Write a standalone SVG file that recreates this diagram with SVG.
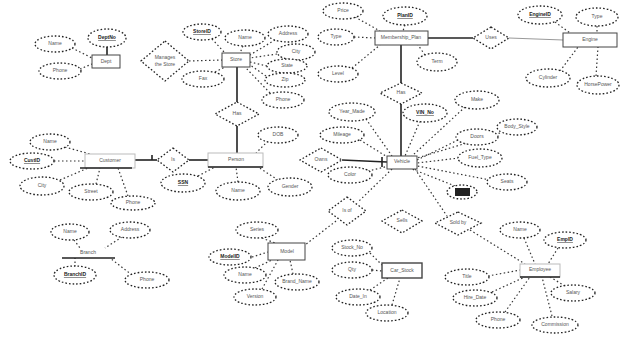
<svg xmlns="http://www.w3.org/2000/svg" width="624" height="337" viewBox="0 0 624 337">
<style>
.bg{fill:#fff}
.at{fill:#fff;stroke:#222;stroke-width:1.3;stroke-dasharray:1.6 2}
.rel{fill:#fff;stroke:#222;stroke-width:1.3;stroke-dasharray:1.6 2}
.ent{fill:#fff;stroke:#444;stroke-width:1}
.t{font-family:"Liberation Sans",Arial,sans-serif;font-size:5px;fill:#555;text-anchor:middle;dominant-baseline:middle}
.k{text-decoration:underline;fill:#222;font-weight:bold}
.d{fill:none;stroke:#333;stroke-width:1.2;stroke-dasharray:1.5 2.5}
.s{fill:none;stroke:#222;stroke-width:1.6}
.g{fill:none;stroke:#999;stroke-width:1}
</style>
<rect class="bg" width="624" height="337"/>
<g id="connectors">
<line class="d" x1="72" y1="48" x2="92" y2="58"/><line class="s" x1="107" y1="47" x2="107" y2="55"/><line class="d" x1="80" y1="69" x2="92" y2="64"/>
<line class="d" x1="189" y1="61" x2="222" y2="60"/><line class="d" x1="212" y1="39" x2="225" y2="53"/><line class="d" x1="243" y1="46" x2="240" y2="53"/><line class="d" x1="275" y1="40" x2="250" y2="55"/><line class="d" x1="277" y1="54" x2="250" y2="58"/><line class="d" x1="267" y1="66" x2="250" y2="62"/><line class="d" x1="266" y1="76" x2="250" y2="65"/><line class="d" x1="270" y1="93" x2="245" y2="67"/><line class="d" x1="215" y1="72" x2="225" y2="67"/>
<line class="s" x1="237" y1="67" x2="237" y2="102"/><line class="s" x1="237" y1="126" x2="237" y2="153"/>
<line class="d" x1="355" y1="17" x2="380" y2="31"/><line class="d" x1="405" y1="25" x2="403" y2="31"/><line class="d" x1="354" y1="37" x2="375" y2="38"/><line class="d" x1="425" y1="55" x2="418" y2="45"/><line class="d" x1="352" y1="68" x2="380" y2="45"/>
<line class="s" x1="428" y1="38" x2="473" y2="38"/><line class="s" x1="401" y1="45" x2="401" y2="83"/><line class="s" x1="401" y1="104" x2="401" y2="156"/>
<line class="g" x1="509" y1="38" x2="563" y2="40"/>
<line class="d" x1="555" y1="22" x2="570" y2="33"/><line class="d" x1="597" y1="26" x2="597" y2="33"/><line class="d" x1="560" y1="71" x2="578" y2="47"/><line class="d" x1="596" y1="76" x2="598" y2="47"/>
<line class="d" x1="65" y1="147" x2="90" y2="154"/><line class="d" x1="54" y1="161" x2="85" y2="161"/><line class="d" x1="60" y1="180" x2="88" y2="168"/><line class="d" x1="96" y1="184" x2="100" y2="168"/><line class="d" x1="128" y1="196" x2="118" y2="168"/>
<line class="s" x1="135" y1="160" x2="157" y2="160"/><line class="s" x1="152" y1="155" x2="152" y2="160"/><line class="s" x1="189" y1="160" x2="208" y2="160"/>
<line class="d" x1="198" y1="176" x2="215" y2="167"/><line class="d" x1="238" y1="182" x2="236" y2="167"/><line class="d" x1="278" y1="180" x2="258" y2="167"/><line class="d" x1="268" y1="141" x2="256" y2="153"/>
<line class="d" x1="366" y1="119" x2="392" y2="156"/><line class="d" x1="360" y1="140" x2="389" y2="158"/><line class="d" x1="368" y1="171" x2="389" y2="166"/><line class="d" x1="420" y1="121" x2="405" y2="156"/><line class="d" x1="465" y1="107" x2="412" y2="156"/><line class="d" x1="500" y1="133" x2="417" y2="158"/><line class="d" x1="458" y1="140" x2="417" y2="160"/><line class="d" x1="459" y1="158" x2="417" y2="163"/><line class="d" x1="490" y1="180" x2="417" y2="166"/><line class="d" x1="455" y1="186" x2="412" y2="169"/>
<line class="s" x1="342" y1="160" x2="387" y2="162"/><line class="s" x1="382" y1="157" x2="382" y2="167"/>
<line class="d" x1="392" y1="169" x2="358" y2="202"/><line class="d" x1="336" y1="221" x2="305" y2="245"/>
<line class="d" x1="415" y1="169" x2="447" y2="216"/><line class="d" x1="470" y1="230" x2="525" y2="264"/>
<line class="d" x1="262" y1="238" x2="275" y2="243"/><line class="d" x1="252" y1="257" x2="268" y2="252"/><line class="d" x1="255" y1="268" x2="272" y2="260"/><line class="d" x1="293" y1="274" x2="290" y2="260"/><line class="d" x1="262" y1="289" x2="278" y2="260"/>
<line class="d" x1="370" y1="253" x2="382" y2="265"/><line class="d" x1="372" y1="270" x2="382" y2="271"/><line class="d" x1="370" y1="290" x2="388" y2="278"/><line class="d" x1="392" y1="305" x2="400" y2="278"/>
<line class="d" x1="524" y1="238" x2="535" y2="264"/><line class="d" x1="558" y1="248" x2="548" y2="264"/><line class="d" x1="488" y1="276" x2="520" y2="270"/><line class="d" x1="492" y1="292" x2="525" y2="277"/><line class="d" x1="565" y1="286" x2="550" y2="277"/><line class="d" x1="505" y1="312" x2="530" y2="277"/><line class="d" x1="552" y1="316" x2="542" y2="277"/>
<line class="d" x1="74" y1="240" x2="80" y2="248"/><line class="d" x1="122" y1="237" x2="105" y2="248"/><line class="d" x1="75" y1="267" x2="75" y2="258"/><line class="d" x1="132" y1="275" x2="110" y2="258"/>
</g>
<g id="dept"><rect class="ent" x="92" y="55" width="28" height="13"/><text class="t" x="106" y="62">Dept</text></g>
<g id="dept-a1"><ellipse class="at" cx="55" cy="44" rx="20" ry="8"/><text class="t" x="55" y="44">Name</text></g>
<g id="dept-a2"><ellipse class="at" cx="107" cy="38" rx="19" ry="9"/><text class="t k" x="107" y="38">DeptNo</text></g>
<g id="dept-a3"><ellipse class="at" cx="60" cy="71" rx="21" ry="8"/><text class="t" x="60" y="71">Phone</text></g>
<g id="manages"><polygon class="rel" points="165,41 189,61 165,81 141,61"/><text class="t" x="165" y="58">Manages</text><text class="t" x="165" y="65">the Store</text></g>
<g id="store"><rect class="ent" x="222" y="53" width="28" height="14"/><text class="t" x="236" y="60">Store</text></g>
<g id="store-a1"><ellipse class="at" cx="202" cy="32" rx="19" ry="8"/><text class="t k" x="202" y="32">StoreID</text></g>
<g id="store-a2"><ellipse class="at" cx="245" cy="38" rx="20" ry="8"/><text class="t" x="245" y="38">Name</text></g>
<g id="store-a3"><ellipse class="at" cx="288" cy="34" rx="20" ry="8"/><text class="t" x="288" y="34">Address</text></g>
<g id="store-a4"><ellipse class="at" cx="296" cy="52" rx="19" ry="8"/><text class="t" x="296" y="52">City</text></g>
<g id="store-a5"><ellipse class="at" cx="287" cy="66" rx="20" ry="7"/><text class="t" x="287" y="66">State</text></g>
<g id="store-a6"><ellipse class="at" cx="285" cy="80" rx="20" ry="7"/><text class="t" x="285" y="80">Zip</text></g>
<g id="store-a7"><ellipse class="at" cx="283" cy="100" rx="21" ry="8"/><text class="t" x="283" y="100">Phone</text></g>
<g id="store-a8"><ellipse class="at" cx="203" cy="79" rx="21" ry="8"/><text class="t" x="203" y="79">Fax</text></g>
<g id="has1"><polygon class="rel" points="237,102 259,114 237,126 215,114"/><text class="t" x="237" y="114">Has</text></g>
<g id="plan"><rect class="ent" x="375" y="31" width="53" height="14"/><text class="t" x="401" y="38">Membership_Plan</text></g>
<g id="plan-a1"><ellipse class="at" cx="343" cy="11" rx="20" ry="8"/><text class="t" x="343" y="11">Price</text></g>
<g id="plan-a2"><ellipse class="at" cx="405" cy="16" rx="22" ry="9"/><text class="t k" x="405" y="16">PlanID</text></g>
<g id="plan-a3"><ellipse class="at" cx="336" cy="37" rx="18" ry="8"/><text class="t" x="336" y="37">Type</text></g>
<g id="plan-a4"><ellipse class="at" cx="437" cy="62" rx="20" ry="9"/><text class="t" x="437" y="62">Term</text></g>
<g id="plan-a5"><ellipse class="at" cx="338" cy="74" rx="20" ry="8"/><text class="t" x="338" y="74">Level</text></g>
<g id="uses"><polygon class="rel" points="491,27 509,38 491,49 473,38"/><text class="t" x="491" y="38">Uses</text></g>
<g id="engine"><rect class="ent" x="563" y="33" width="54" height="14"/><text class="t" x="590" y="40">Engine</text></g>
<g id="engine-a1"><ellipse class="at" cx="540" cy="15" rx="22" ry="9"/><text class="t k" x="540" y="15">EngineID</text></g>
<g id="engine-a2"><ellipse class="at" cx="597" cy="17" rx="21" ry="9"/><text class="t" x="597" y="17">Type</text></g>
<g id="engine-a3"><ellipse class="at" cx="548" cy="78" rx="22" ry="9"/><text class="t" x="548" y="78">Cylinder</text></g>
<g id="engine-a4"><ellipse class="at" cx="598" cy="85" rx="21" ry="9"/><text class="t" x="598" y="85">HorsePower</text></g>
<g id="has2"><polygon class="rel" points="401,83 422,93 401,104 380,93"/><text class="t" x="401" y="93">Has</text></g>
<g id="customer"><rect class="ent" x="85" y="154" width="50" height="14" style="stroke:#bbb"/><line class="s" x1="80" y1="168" x2="132" y2="168"/><text class="t" x="110" y="161">Customer</text></g>
<g id="cust-a1"><ellipse class="at" cx="50" cy="142" rx="20" ry="8"/><text class="t" x="50" y="142">Name</text></g>
<g id="cust-a2"><ellipse class="at" cx="32" cy="161" rx="22" ry="8"/><text class="t k" x="32" y="161">CustID</text></g>
<g id="cust-a3"><ellipse class="at" cx="42" cy="186" rx="22" ry="9"/><text class="t" x="42" y="186">City</text></g>
<g id="cust-a4"><ellipse class="at" cx="91" cy="192" rx="22" ry="8"/><text class="t" x="91" y="192">Street</text></g>
<g id="cust-a5"><ellipse class="at" cx="133" cy="203" rx="22" ry="7"/><text class="t" x="133" y="203">Phone</text></g>
<g id="is"><polygon class="rel" points="173,148 189,160 173,172 157,160"/><text class="t" x="173" y="160">Is</text></g>
<g id="person"><rect class="ent" x="208" y="153" width="55" height="14" style="stroke:#bbb"/><line class="s" x1="208" y1="167" x2="263" y2="167"/><text class="t" x="236" y="160">Person</text></g>
<g id="person-a1"><ellipse class="at" cx="183" cy="183" rx="22" ry="9"/><text class="t k" x="183" y="183">SSN</text></g>
<g id="person-a2"><ellipse class="at" cx="238" cy="191" rx="22" ry="9"/><text class="t" x="238" y="191">Name</text></g>
<g id="person-a3"><ellipse class="at" cx="290" cy="187" rx="22" ry="9"/><text class="t" x="290" y="187">Gender</text></g>
<g id="person-a4"><ellipse class="at" cx="278" cy="135" rx="20" ry="8"/><text class="t" x="278" y="135">DOB</text></g>
<g id="vehicle"><rect class="ent" x="387" y="156" width="30" height="13"/><text class="t" x="402" y="162">Vehicle</text></g>
<g id="veh-a1"><ellipse class="at" cx="352" cy="112" rx="23" ry="9"/><text class="t" x="352" y="112">Year_Made</text></g>
<g id="veh-a2"><ellipse class="at" cx="342" cy="135" rx="22" ry="8"/><text class="t" x="342" y="135">Mileage</text></g>
<g id="veh-a3"><ellipse class="at" cx="350" cy="175" rx="22" ry="8"/><text class="t" x="350" y="175">Color</text></g>
<g id="veh-a4"><ellipse class="at" cx="425" cy="113" rx="22" ry="9"/><text class="t k" x="425" y="113">VIN_No</text></g>
<g id="veh-a5"><ellipse class="at" cx="477" cy="100" rx="22" ry="9"/><text class="t" x="477" y="100">Make</text></g>
<g id="veh-a6"><ellipse class="at" cx="517" cy="127" rx="20" ry="8"/><text class="t" x="517" y="127">Body_Style</text></g>
<g id="veh-a7"><ellipse class="at" cx="477" cy="137" rx="21" ry="8"/><text class="t" x="477" y="137">Doors</text></g>
<g id="veh-a8"><ellipse class="at" cx="480" cy="158" rx="22" ry="9"/><text class="t" x="480" y="158">Fuel_Type</text></g>
<g id="veh-a9"><ellipse class="at" cx="507" cy="182" rx="20" ry="8"/><text class="t" x="507" y="182">Seats</text></g>
<g id="veh-a10"><ellipse class="at" cx="462" cy="192" rx="15" ry="7"/><rect x="455" y="188" width="15" height="8" fill="#222"/></g>
<g id="owns"><polygon class="rel" points="321,148 342,160 321,172 300,160"/><text class="t" x="321" y="160">Owns</text></g>
<g id="isof"><polygon class="rel" points="347,197 366,211 347,225 328,211"/><text class="t" x="347" y="211">Is of</text></g>
<g id="sells"><polygon class="rel" points="402,210 422,221 402,233 382,221"/><text class="t" x="402" y="221">Sells</text></g>
<g id="soldby"><polygon class="rel" points="458,212 481,223 458,235 435,223"/><text class="t" x="458" y="223">Sold by</text></g>
<g id="model"><rect class="ent" x="268" y="243" width="37" height="17"/><text class="t" x="287" y="252">Model</text></g>
<g id="model-a1"><ellipse class="at" cx="257" cy="230" rx="21" ry="8"/><text class="t" x="257" y="230">Series</text></g>
<g id="model-a2"><ellipse class="at" cx="230" cy="257" rx="21" ry="8"/><text class="t k" x="230" y="257">ModelID</text></g>
<g id="model-a3"><ellipse class="at" cx="245" cy="275" rx="21" ry="8"/><text class="t" x="245" y="275">Name</text></g>
<g id="model-a4"><ellipse class="at" cx="297" cy="282" rx="22" ry="8"/><text class="t" x="297" y="282">Brand_Name</text></g>
<g id="model-a5"><ellipse class="at" cx="255" cy="297" rx="21" ry="8"/><text class="t" x="255" y="297">Version</text></g>
<g id="stock"><rect class="ent" x="382" y="263" width="40" height="15" style="stroke-width:1.4"/><text class="t" x="402" y="271">Car_Stock</text></g>
<g id="stock-a1"><ellipse class="at" cx="352" cy="248" rx="20" ry="8"/><text class="t" x="352" y="248">Stock_No</text></g>
<g id="stock-a2"><ellipse class="at" cx="352" cy="270" rx="20" ry="8"/><text class="t" x="352" y="270">Qty</text></g>
<g id="stock-a3"><ellipse class="at" cx="358" cy="297" rx="22" ry="8"/><text class="t" x="358" y="297">Date_In</text></g>
<g id="stock-a4"><ellipse class="at" cx="387" cy="313" rx="21" ry="8"/><text class="t" x="387" y="313">Location</text></g>
<g id="employee"><rect class="ent" x="520" y="264" width="40" height="13" style="stroke:#bbb"/><line class="s" x1="520" y1="277" x2="560" y2="277"/><text class="t" x="540" y="270">Employee</text></g>
<g id="emp-a1"><ellipse class="at" cx="520" cy="230" rx="20" ry="8"/><text class="t" x="520" y="230">Name</text></g>
<g id="emp-a2"><ellipse class="at" cx="565" cy="240" rx="21" ry="8"/><text class="t k" x="565" y="240">EmpID</text></g>
<g id="emp-a3"><ellipse class="at" cx="467" cy="277" rx="22" ry="8"/><text class="t" x="467" y="277">Title</text></g>
<g id="emp-a4"><ellipse class="at" cx="475" cy="298" rx="22" ry="8"/><text class="t" x="475" y="298">Hire_Date</text></g>
<g id="emp-a5"><ellipse class="at" cx="573" cy="293" rx="22" ry="8"/><text class="t" x="573" y="293">Salary</text></g>
<g id="emp-a6"><ellipse class="at" cx="498" cy="320" rx="22" ry="8"/><text class="t" x="498" y="320">Phone</text></g>
<g id="emp-a7"><ellipse class="at" cx="555" cy="325" rx="23" ry="8"/><text class="t" x="555" y="325">Commission</text></g>
<g id="branch"><line class="s" x1="62" y1="258" x2="115" y2="258"/><text class="t" x="88" y="253">Branch</text></g>
<g id="branch-a1"><ellipse class="at" cx="70" cy="232" rx="19" ry="8"/><text class="t" x="70" y="232">Name</text></g>
<g id="branch-a2"><ellipse class="at" cx="130" cy="230" rx="20" ry="8"/><text class="t" x="130" y="230">Address</text></g>
<g id="branch-a3"><ellipse class="at" cx="75" cy="275" rx="21" ry="9"/><text class="t k" x="75" y="275">BranchID</text></g>
<g id="branch-a4"><ellipse class="at" cx="147" cy="280" rx="22" ry="8"/><text class="t" x="147" y="280">Phone</text></g>
</svg>
